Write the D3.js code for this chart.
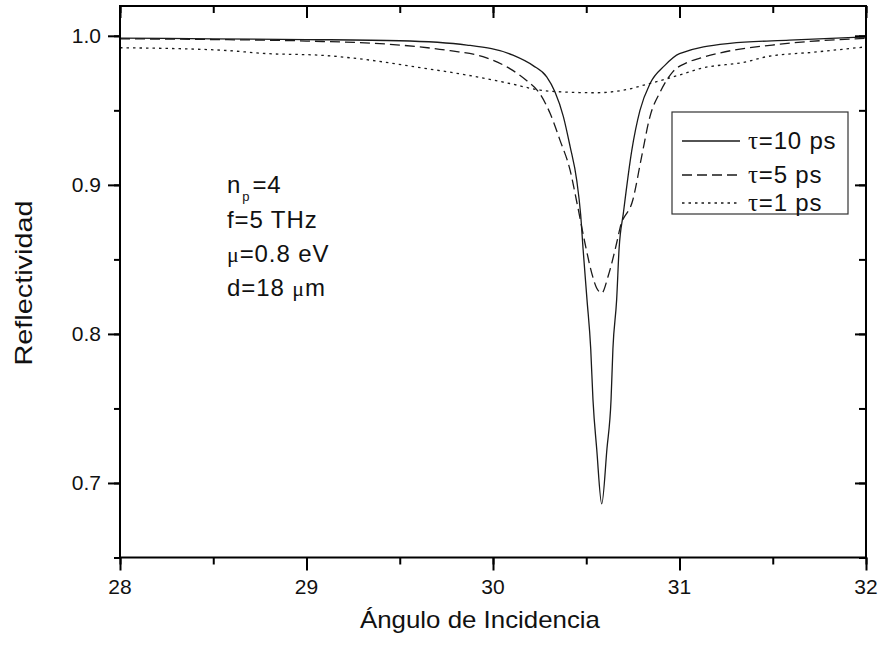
<!DOCTYPE html>
<html><head><meta charset="utf-8">
<script src="https://cdn.jsdelivr.net/npm/d3@7"></script>
<style>body{margin:0;background:#fff}svg{display:block}text{font-family:Arial,"Liberation Sans",sans-serif;fill:#111}</style>
</head><body><svg id="c" width="880" height="646"></svg>
<script>
// ---- data ----
const tau10X = [28, 28.5, 29, 29.5, 29.86, 30.107, 30.215, 30.288, 30.332, 30.377, 30.413, 30.449, 30.47, 30.483, 30.504, 30.524, 30.536, 30.556, 30.583, 30.611, 30.633, 30.643, 30.663, 30.676, 30.699, 30.744, 30.788, 30.842, 30.92, 31.0, 31.27, 31.59, 32];
const tau10Y = [0.9985, 0.998, 0.9975, 0.9967, 0.9938, 0.987, 0.980, 0.9725, 0.9625, 0.946, 0.926, 0.903, 0.880, 0.857, 0.823, 0.790, 0.756, 0.723, 0.686, 0.723, 0.756, 0.790, 0.823, 0.857, 0.881, 0.923, 0.950, 0.968, 0.980, 0.988, 0.9949, 0.9971, 0.9993];
const tau5X = [28, 28.5, 29, 29.5, 29.77, 29.946, 30.09, 30.18, 30.252, 30.306, 30.359, 30.413, 30.45, 30.493, 30.529, 30.555, 30.583, 30.618, 30.663, 30.681, 30.75, 30.797, 30.842, 30.895, 30.965, 31.04, 31.11, 31.22, 31.54, 32];
const tau5Y = [0.998, 0.9975, 0.9965, 0.9938, 0.990, 0.986, 0.978, 0.970, 0.961, 0.948, 0.930, 0.910, 0.888, 0.861, 0.841, 0.831, 0.8275, 0.839, 0.861, 0.871, 0.890, 0.919, 0.946, 0.962, 0.976, 0.982, 0.985, 0.9886, 0.9944, 0.9983];
const tau1X = [28, 28.536, 28.8, 29.07, 29.34, 29.59, 29.859, 30.09, 30.252, 30.4, 30.55, 30.7, 30.84, 31.0, 31.11, 31.36, 31.467, 31.72, 32];
const tau1Y = [0.992, 0.9904, 0.988, 0.987, 0.9837, 0.979, 0.9737, 0.968, 0.9636, 0.9622, 0.9618, 0.9635, 0.968, 0.9737, 0.978, 0.9826, 0.986, 0.989, 0.9926];
const seriesNames = ["\u03C4=10 ps", "\u03C4=5 ps", "\u03C4=1 ps"];
const xTicks = [28, 29, 30, 31, 32];
const yTicks = [0.7, 0.8, 0.9, 1.0];
const annotations = ["n|p|=4", "f=5 THz", "\u03BC=0.8 eV", "d=18 \u03BCm"];

// ---- layout ----
const svg = d3.select("#c");
const L = 120, R = 866, T = 6, B = 557.5;
const x = d3.scaleLinear().domain([28, 32]).range([L, R]);
const y = d3.scaleLinear().domain([0.65, 1.02]).range([B, T]);

const series = [
  {name: seriesNames[0], xs: tau10X, ys: tau10Y, dash: null},
  {name: seriesNames[1], xs: tau5X, ys: tau5Y, dash: "10,5"},
  {name: seriesNames[2], xs: tau1X, ys: tau1Y, dash: "2.5,4"}
];
const line = d3.line().x(d => x(d[0])).y(d => y(d[1])).curve(d3.curveMonotoneX);
svg.append("clipPath").attr("id","pc").append("rect").attr("x",L).attr("y",T).attr("width",R-L).attr("height",B-T);
const g = svg.append("g").attr("clip-path","url(#pc)");
series.forEach(s => {
  g.append("path").datum(s.xs.map((v,i)=>[v, s.ys[i]]))
    .attr("d", line).attr("fill","none").attr("stroke","#1a1a1a")
    .attr("stroke-width",1.3).attr("stroke-dasharray", s.dash);
});

// ---- axes ----
const xMinor = d3.range(28, 32.001, 0.5);
const yMinor = d3.range(0.65, 1.0201, 0.05).map(v => +v.toFixed(2));
function styleAxis(sel){ sel.select(".domain").remove(); sel.selectAll("line").attr("stroke","#000").attr("stroke-width",2); sel.selectAll("text").remove(); }
svg.append("g").attr("transform",`translate(0,${B})`).call(d3.axisBottom(x).tickValues(xMinor).tickSize(7)).call(styleAxis);
svg.append("g").attr("transform",`translate(0,${B})`).call(d3.axisBottom(x).tickValues(xTicks).tickSize(13)).call(styleAxis);
svg.append("g").attr("transform",`translate(0,${T})`).call(d3.axisBottom(x).tickValues(xMinor).tickSize(7)).call(styleAxis);
svg.append("g").attr("transform",`translate(0,${T})`).call(d3.axisBottom(x).tickValues(xTicks).tickSize(12)).call(styleAxis);
svg.append("g").attr("transform",`translate(${L},0)`).call(d3.axisLeft(y).tickValues(yMinor).tickSize(6)).call(styleAxis);
svg.append("g").attr("transform",`translate(${L},0)`).call(d3.axisLeft(y).tickValues(yTicks).tickSize(12)).call(styleAxis);
svg.append("g").attr("transform",`translate(${R},0)`).call(d3.axisLeft(y).tickValues(yMinor).tickSize(7)).call(styleAxis);
svg.append("g").attr("transform",`translate(${R},0)`).call(d3.axisLeft(y).tickValues(yTicks).tickSize(11)).call(styleAxis);
svg.append("rect").attr("x",L).attr("y",T).attr("width",R-L).attr("height",B-T).attr("fill","none").attr("stroke","#000").attr("stroke-width",2);

// tick labels
svg.append("g").selectAll("text").data(xTicks).join("text")
  .attr("x", d => x(d)).attr("y", 594).attr("text-anchor","middle").attr("font-size",21).text(d => d);
svg.append("g").selectAll("text").data(yTicks).join("text")
  .attr("x", 101).attr("y", d => y(d) + 7).attr("text-anchor","end").attr("font-size",21).text(d => d.toFixed(1));

// axis titles
svg.append("text").attr("x", 480).attr("y", 628).attr("text-anchor","middle").attr("font-size",24)
  .attr("textLength",240).attr("lengthAdjust","spacingAndGlyphs").text("\u00C1ngulo de Incidencia");
svg.append("text").attr("transform","translate(32,283) rotate(-90)").attr("text-anchor","middle").attr("font-size",24)
  .attr("textLength",165).attr("lengthAdjust","spacingAndGlyphs").text("Reflectividad");

// annotations
const annY = [193, 228, 262, 296];
annotations.forEach((a, i) => {
  const t = svg.append("text").attr("x", 227).attr("y", annY[i]).attr("font-size",24).attr("letter-spacing",0.9);
  if (a.includes("|")) {
    const p = a.split("|");
    t.append("tspan").text(p[0]);
    t.append("tspan").attr("font-size",13).attr("dy",8).attr("dx",1).text(p[1]);
    t.append("tspan").attr("dy",-8).attr("dx",2).text(p[2]);
  } else {
    a.split(/(\u03BC)/).filter(s=>s.length).forEach(s => {
      const ts = t.append("tspan").text(s);
      if (s === "\u03BC") ts.attr("font-family","'Liberation Serif',serif").attr("font-size",22);
    });
  }
});

// legend
svg.append("rect").attr("x",672).attr("y",112).attr("width",176).attr("height",102).attr("fill","#fff").attr("stroke","#333").attr("stroke-width",1.2);
const legY = [141, 175, 203];
series.forEach((s, i) => {
  svg.append("line").attr("x1",682).attr("x2",740).attr("y1",legY[i]).attr("y2",legY[i])
    .attr("stroke","#1a1a1a").attr("stroke-width",1.3).attr("stroke-dasharray", s.dash);
  const t = svg.append("text").attr("x",748).attr("y",legY[i]+8).attr("font-size",24).attr("letter-spacing",0.8);
  t.append("tspan").attr("font-family","'Liberation Serif',serif").attr("font-size",25).text(s.name[0]);
  t.append("tspan").text(s.name.slice(1));
});
</script></body></html>
